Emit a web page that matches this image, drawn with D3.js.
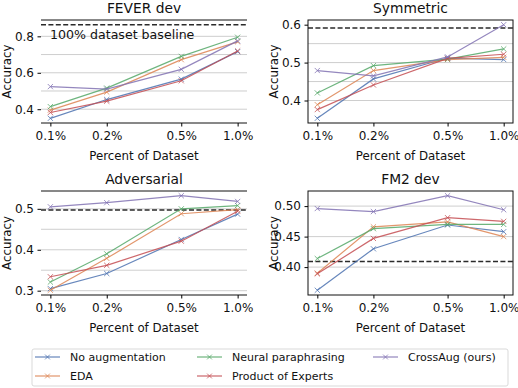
<!DOCTYPE html>
<html>
<head>
<meta charset="utf-8">
<script src="https://cdn.jsdelivr.net/npm/d3@7"></script>
<style>
  body { margin: 0; background: #fff; }
  text { font-family: "DejaVu Sans", sans-serif; fill: #111; }
</style>
</head>
<body>
<div id="chart"></div>
<script>
// x values (percent of dataset) and their tick labels
var percents = [0.1, 0.2, 0.5, 1.0];
var percentLabels = ["0.1%", "0.2%", "0.5%", "1.0%"];

// series names, in plotting order
var methods = ["No augmentation", "EDA", "Neural paraphrasing", "Product of Experts", "CrossAug (ours)"];
var colors = ["#4C72B0", "#DD8452", "#55A868", "#C44E52", "#8172B3"];

// accuracy per panel, one row per method (same order as methods)
var feverDev = [
    [0.350, 0.453, 0.565, 0.716],
    [0.395, 0.494, 0.672, 0.770],
    [0.414, 0.516, 0.690, 0.795],
    [0.382, 0.444, 0.556, 0.720],
    [0.524, 0.510, 0.619, 0.775]
];
var symmetric = [
    [0.353, 0.457, 0.512, 0.508],
    [0.389, 0.479, 0.508, 0.514],
    [0.420, 0.492, 0.509, 0.536],
    [0.376, 0.441, 0.511, 0.522],
    [0.479, 0.465, 0.515, 0.600]
];
var adversarial = [
    [0.305, 0.342, 0.425, 0.487],
    [0.301, 0.379, 0.488, 0.498],
    [0.321, 0.390, 0.500, 0.508],
    [0.334, 0.362, 0.421, 0.494],
    [0.505, 0.515, 0.532, 0.518]
];
var fm2Dev = [
    [0.362, 0.430, 0.469, 0.458],
    [0.390, 0.466, 0.474, 0.450],
    [0.414, 0.463, 0.470, 0.470],
    [0.389, 0.447, 0.481, 0.475],
    [0.496, 0.491, 0.517, 0.494]
];

// 100% dataset baselines
var baselines = [0.864, 0.591, 0.497, 0.409];

var panels = [
    {title: "FEVER dev", data: feverDev, base: baselines[0], ticks: [0.4, 0.6, 0.8], grid: [0.4, 0.5, 0.6, 0.7, 0.8], fmt: ".1f",
     x0: 41, x1: 247, y0: 20, y1: 123, box: false, note: true},
    {title: "Symmetric", data: symmetric, base: baselines[1], ticks: [0.4, 0.5, 0.6], grid: [0.4, 0.45, 0.5, 0.55], fmt: ".1f",
     x0: 308, x1: 513, y0: 20, y1: 123, box: true},
    {title: "Adversarial", data: adversarial, base: baselines[2], ticks: [0.3, 0.4, 0.5], grid: [0.3, 0.35, 0.4, 0.45, 0.5], fmt: ".1f",
     x0: 41, x1: 247, y0: 191, y1: 295, box: false},
    {title: "FM2 dev", data: fm2Dev, base: baselines[3], ticks: [0.40, 0.45, 0.50], grid: [0.40, 0.45, 0.50], fmt: ".2f",
     x0: 308, x1: 513, y0: 191, y1: 295, box: true}
];

var svg = d3.select("#chart").append("svg")
    .attr("width", 518)
    .attr("height", 388);

panels.forEach(function(p) {
    var g = svg.append("g");

    //log x scale with matplotlib-like 5% margins
    var x = d3.scaleLog()
        .domain([Math.pow(10, -1.05), Math.pow(10, 0.05)])
        .range([p.x0, p.x1]);

    var all = d3.merge(p.data).concat([p.base]);
    var lo = d3.min(all), hi = d3.max(all), pad = (hi - lo) * 0.05;
    var y = d3.scaleLinear()
        .domain([lo - pad, hi + pad])
        .range([p.y1, p.y0]);

    //grid lines
    g.selectAll(".grid").data(p.grid).enter().append("line")
        .attr("x1", p.x0).attr("x2", p.x1)
        .attr("y1", d => y(d)).attr("y2", d => y(d))
        .attr("stroke", "#c8c8c8").attr("stroke-width", 0.9);

    //baseline
    g.append("line")
        .attr("x1", p.x0).attr("x2", p.x1)
        .attr("y1", y(p.base)).attr("y2", y(p.base))
        .attr("stroke", "#2a2a2a").attr("stroke-width", 1.5)
        .attr("stroke-dasharray", "5,2.4");

    if (p.note) {
        g.append("text")
            .attr("x", 50).attr("y", 38.5)
            .attr("font-size", "12.6px")
            .text("100% dataset baseline");
    }

    //series lines and x markers
    var line = d3.line().x((d, i) => x(percents[i])).y(d => y(d));
    p.data.forEach(function(vals, k) {
        g.append("path")
            .datum(vals)
            .attr("d", line)
            .attr("fill", "none")
            .attr("stroke", colors[k])
            .attr("stroke-width", 1.2)
            .attr("opacity", 0.85);
        g.selectAll(".m" + k).data(vals).enter().append("path")
            .attr("transform", (d, i) => `translate(${x(percents[i])},${y(d)})`)
            .attr("d", "M-2.6,-2.6L2.6,2.6M-2.6,2.6L2.6,-2.6")
            .attr("stroke", colors[k])
            .attr("stroke-width", 0.9)
            .attr("opacity", 0.85);
    });

    //frame
    if (p.box) {
        g.append("rect")
            .attr("x", p.x0).attr("y", p.y0)
            .attr("width", p.x1 - p.x0).attr("height", p.y1 - p.y0)
            .attr("fill", "none").attr("stroke", "#111").attr("stroke-width", 1);
    } else {
        g.append("line").attr("x1", p.x0).attr("x2", p.x1).attr("y1", p.y0).attr("y2", p.y0)
            .attr("stroke", "#111").attr("stroke-width", 1);
        g.append("line").attr("x1", p.x0).attr("x2", p.x1).attr("y1", p.y1).attr("y2", p.y1)
            .attr("stroke", "#111").attr("stroke-width", 1);
    }

    //x axis
    var xAxis = g.append("g")
        .attr("transform", `translate(0, ${p.y1})`)
        .call(d3.axisBottom(x).tickValues(percents).tickFormat((d, i) => percentLabels[i]).tickSize(3.5).tickPadding(4.5));
    xAxis.select(".domain").remove();
    xAxis.selectAll("text").attr("font-size", "12px").attr("font-family", "DejaVu Sans");

    //y axis
    var yAxis = g.append("g")
        .attr("transform", `translate(${p.x0}, 0)`)
        .call(d3.axisLeft(y).tickValues(p.ticks).tickFormat(d3.format(p.fmt)).tickSize(3.5).tickPadding(3.5));
    yAxis.select(".domain").remove();
    yAxis.selectAll("text").attr("font-size", "12px").attr("font-family", "DejaVu Sans");

    //titles and labels
    var cx = (p.x0 + p.x1) / 2;
    g.append("text")
        .attr("x", cx).attr("y", p.y0 - 7.5)
        .attr("text-anchor", "middle")
        .attr("font-size", "13.8px")
        .text(p.title);

    g.append("text")
        .attr("x", cx).attr("y", p.y1 + 37)
        .attr("text-anchor", "middle")
        .attr("font-size", "11.8px")
        .text("Percent of Dataset");

    g.append("text")
        .attr("transform", `translate(${p.x0 - 30.5}, ${(p.y0 + p.y1) / 2}) rotate(-90)`)
        .attr("text-anchor", "middle")
        .attr("font-size", "11.8px")
        .text("Accuracy");
});

//legend
var legend = svg.append("g");
legend.append("rect")
    .attr("x", 32).attr("y", 349).attr("width", 476).attr("height", 37)
    .attr("rx", 2)
    .attr("fill", "#fff").attr("stroke", "#d5d5d5").attr("stroke-width", 0.9);

var legendCols = [35, 197, 373];
methods.forEach(function(name, k) {
    var col = Math.floor(k / 2), row = k % 2;
    var lx = legendCols[col], ly = 357 + row * 19;
    legend.append("line")
        .attr("x1", lx).attr("x2", lx + 25).attr("y1", ly).attr("y2", ly)
        .attr("stroke", colors[k]).attr("stroke-width", 1.2).attr("opacity", 0.85);
    legend.append("path")
        .attr("transform", `translate(${lx + 12.5},${ly})`)
        .attr("d", "M-2.4,-2.4L2.4,2.4M-2.4,2.4L2.4,-2.4")
        .attr("stroke", colors[k]).attr("stroke-width", 0.9).attr("opacity", 0.85);
    legend.append("text")
        .attr("x", lx + 35).attr("y", ly + 4)
        .attr("font-size", "11px")
        .text(name);
});
</script>
</body>
</html>
